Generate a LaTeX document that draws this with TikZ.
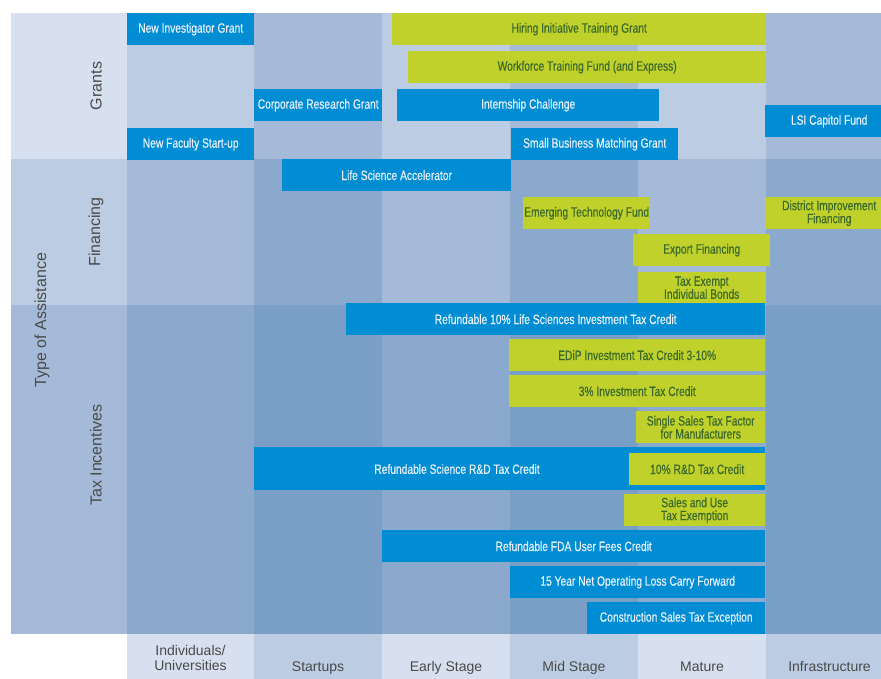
\documentclass[tikz,border=0pt]{standalone}
\usepackage{fontspec}
\setmainfont{Liberation Sans}
\newfontfamily\boxfont[FakeStretch=0.76,FakeBold=0.4]{Liberation Sans}
\definecolor{c0}{HTML}{D6E0EE}
\definecolor{c1}{HTML}{BCCCE3}
\definecolor{c2}{HTML}{A5BAD8}
\definecolor{c3}{HTML}{8BA9CD}
\definecolor{c4}{HTML}{799FC6}
\definecolor{boxblue}{HTML}{008DD4}
\definecolor{boxgreen}{HTML}{BFD12A}
\definecolor{bluetext}{HTML}{E8F1FA}
\definecolor{greentext}{HTML}{3C6A2C}
\definecolor{axisgray}{HTML}{4A4A4A}
\newcommand\pbox[7]{%
  \pgfmathsetmacro\bw{#5-#3}\pgfmathsetmacro\bh{#6-#4}%
  \node[#2, anchor=north west, minimum width=\bw pt, minimum height=\bh pt] (#1) at (#3,#4) {#7};}
\begin{document}
\begin{tikzpicture}[x=1pt,y=-1pt,
  boxbase/.style={inner sep=0pt, align=center, font=\boxfont\fontsize{13.5}{13}\selectfont},
  bluebox/.style={boxbase, fill=boxblue, text=bluetext},
  greenbox/.style={boxbase, fill=boxgreen, text=greentext},
  bluetxt/.style={boxbase, text=bluetext},
  rowlab/.style={text=axisgray, font=\fontsize{16}{18}\selectfont, rotate=90, inner sep=0pt},
  collab/.style={text=axisgray, font=\fontsize{14}{15}\selectfont, align=center, inner sep=0pt, anchor=base}]
\useasboundingbox (0,0) rectangle (881,679);
\fill[white] (0,0) rectangle (881,679);
% label column
\fill[c0] (11,13) rectangle (127,159);
\fill[c1] (11,159) rectangle (127,305);
\fill[c2] (11,305) rectangle (127,634);
% grid cells
\foreach \ya/\yb/\base in {13/159/1, 159/305/2, 305/634/3, 634/679/0}{
  \foreach \i/\xa/\xb in {1/127/254,2/254/382,3/382/510,4/510/638,5/638/766,6/766/893}{
    \pgfmathtruncatemacro\ci{\base+1-mod(\i,2)}
    \fill[c\ci] (\xa,\ya) rectangle (\xb,\yb);
  }
}
% row labels
\node[rowlab] (typeofassistance) at (42,320) {Type of Assistance};
\node[rowlab] (grants) at (96,86) {Grants};
\node[rowlab] (financing) at (96,232) {Financing};
\node[rowlab] (taxincentives) at (96,455) {Tax Incentives};
% column labels
\node[collab] (individuals) at (190.5,670) {Individuals/\\Universities};
\node[collab] (startups) at (318,671) {Startups};
\node[collab] (early) at (446,671) {Early Stage};
\node[collab] (mid) at (574,671) {Mid Stage};
\node[collab] (mature) at (702,671) {Mature};
\node[collab] (infra) at (829.5,671) {Infrastructure};
% Grants
\pbox{nig}{bluebox}{127}{13}{254}{45}{New Investigator Grant}
\pbox{hitg}{greenbox}{392}{13}{766}{45}{Hiring Initiative Training Grant}
\pbox{wtf}{greenbox}{408}{51}{766}{83}{Workforce Training Fund (and Express)}
\pbox{crg}{bluebox}{254}{89}{382}{121}{Corporate Research Grant}
\pbox{ic}{bluebox}{397}{89}{659}{121}{Internship Challenge}
\pbox{lsi}{bluebox}{765}{105}{893}{137}{LSI Capitol Fund}
\pbox{nfs}{bluebox}{127}{128}{254}{160}{New Faculty Start-up}
\pbox{sbmg}{bluebox}{511}{128}{678}{160}{Small Business Matching Grant}
% Financing
\pbox{lsa}{bluebox}{282}{159}{511}{191}{Life Science Accelerator}
\pbox{etf}{greenbox}{523}{197}{650}{229}{Emerging Technology Fund}
\pbox{dif}{greenbox}{765}{197}{893}{229}{District Improvement\\Financing}
\pbox{ef}{greenbox}{633}{234}{770}{266}{Export Financing}
\pbox{teib}{greenbox}{638}{272}{765}{303}{Tax Exempt\\Individual Bonds}
% Tax incentives
\pbox{r10}{bluebox}{346}{303}{765}{335}{Refundable 10\% Life Sciences Investment Tax Credit}
\pbox{edip}{greenbox}{509}{339}{765}{371}{EDiP Investment Tax Credit 3-10\%}
\pbox{itc}{greenbox}{509}{375}{765}{407}{3\% Investment Tax Credit}
\pbox{sstf}{greenbox}{636}{411}{765}{443}{Single Sales Tax Factor\\for Manufacturers}
\pbox{rsrd}{bluebox}{254}{447}{765}{490}{}
\node[bluetxt] (rsrdtext) at (457,469) {Refundable Science R\&D Tax Credit};
\pbox{rd}{greenbox}{629}{453}{765}{485}{10\% R\&D Tax Credit}
\pbox{sute}{greenbox}{624}{494}{765}{526}{Sales and Use\\Tax Exemption}
\pbox{fda}{bluebox}{382}{530}{765}{562}{Refundable FDA User Fees Credit}
\pbox{nol}{bluebox}{510}{566}{765}{598}{15 Year Net Operating Loss Carry Forward}
\pbox{cste}{bluebox}{587}{602}{765}{634}{Construction Sales Tax Exception}
\end{tikzpicture}
\end{document}
